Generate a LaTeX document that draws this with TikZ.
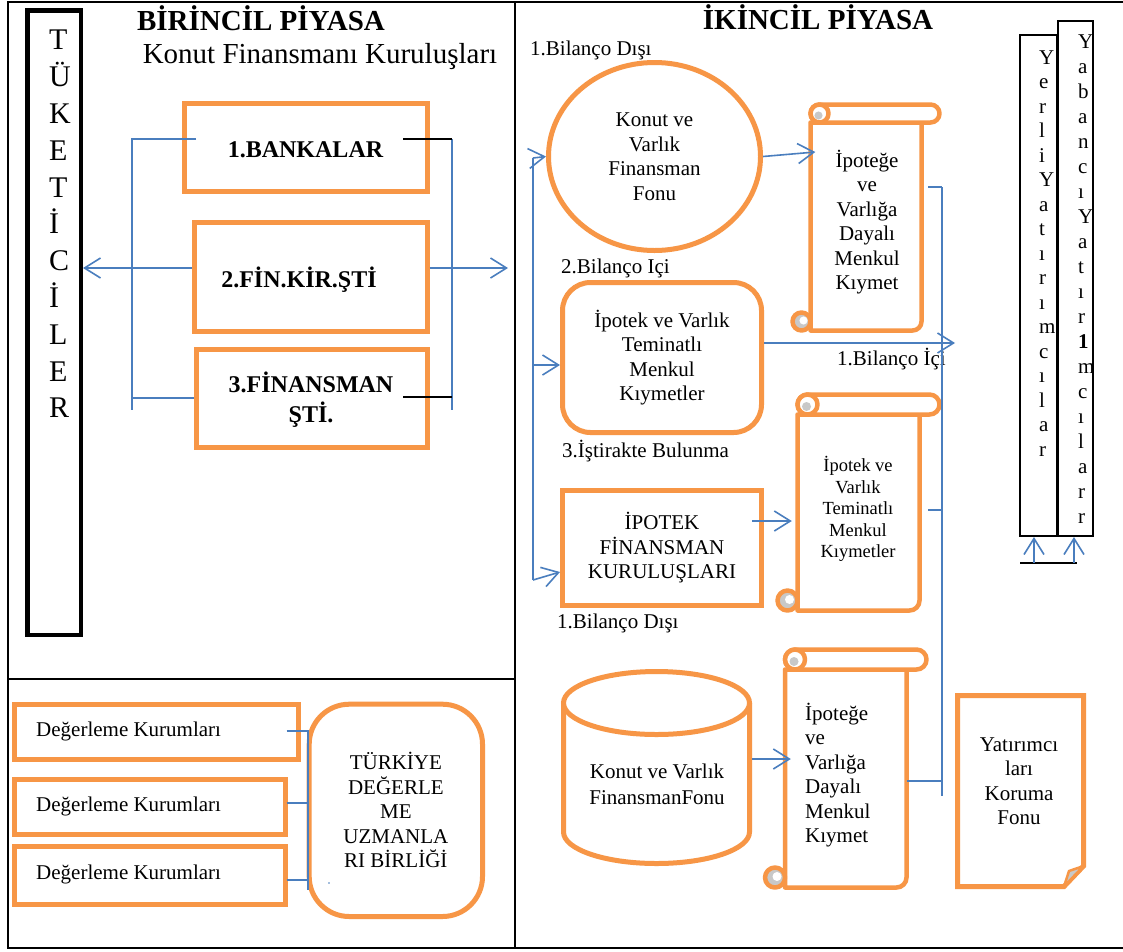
\documentclass[tikz,border=0pt]{standalone}
\usepackage{fontspec}
\setmainfont{Liberation Serif}
\usetikzlibrary{arrows.meta,shapes.geometric}
\definecolor{orng}{RGB}{247,150,70}
\definecolor{blu}{RGB}{74,126,190}
\definecolor{curlgray}{RGB}{200,200,200}
\newcommand{\fsz}[2]{\fontsize{#1}{#2}\selectfont}
% vertical scroll: body left, roll top, roll right, body bottom, roll height (y measured downwards)
\newcommand{\vscroll}[5]{%
  \pgfmathsetmacro\vsL{#1}%
  \pgfmathsetmacro\vsT{-(#2)}%
  \pgfmathsetmacro\vsR{#3}%
  \pgfmathsetmacro\vsB{-(#4)}%
  \pgfmathsetmacro\vsh{(#5)/2}%
  \pgfmathsetmacro\vsRc{#3-(#5)}%
  \pgfmathsetmacro\vsTc{-(#2)-(#5)}%
  \pgfmathsetmacro\vsdot{0.45*(#5)/2}%
  \draw[scroll, fill=white] (\vsL,\vsTc) -- (\vsL,\vsB) -- (\vsRc-\vsh,\vsB)
      arc[start angle=-90, end angle=0, radius=\vsh pt] -- (\vsRc,\vsTc) -- cycle;
  \draw[scroll, fill=white, rounded corners=\vsh pt] (\vsL,\vsT) rectangle (\vsR,\vsTc);
  \draw[scroll, fill=white] (\vsL+\vsh,\vsT-\vsh) circle[radius=\vsh pt];
  \fill[curlgray] (\vsL+\vsh-1,\vsT-\vsh-2) circle[radius=\vsdot pt];
  \draw[scroll, fill=curlgray] (\vsL-\vsh,\vsB+\vsh) circle[radius=\vsh pt];
  \fill[white] (\vsL-\vsh+2,\vsB+\vsh+1) circle[radius=\vsdot pt];
}
\begin{document}
\begin{tikzpicture}[x=1pt,y=1pt,
  frame/.style={draw=black,line width=2.6pt},
  orangebox/.style={draw=orng,line width=5pt,fill=white,inner sep=0pt,rectangle},
  scroll/.style={draw=orng,line width=4.5pt,line join=round},
  blueline/.style={draw=blu,line width=1.6pt},
  blackline/.style={draw=black,line width=1.8pt},
  barb/.style={-{Straight Barb[length=16pt,width=20pt]}},
  lbl/.style={inner sep=0pt,font=\fsz{21}{24.5}},
  boldlbl/.style={inner sep=0pt,font=\bfseries\fsz{24}{30}},
  title/.style={inner sep=0pt,font=\bfseries\fsz{29}{34}}
]
\useasboundingbox (0,0) rectangle (1123,-951);
\fill[white] (0,0) rectangle (1123,-951);

% table frame
\draw[frame] (1123,-2) -- (8,-2) -- (8,-948) -- (1123,-948);
\draw[frame] (515,-2) -- (515,-948);
\draw[frame] (8,-679) -- (515,-679);

% ---------------- primary market ----------------
\node[draw=black,line width=4.5pt,minimum width=53.5pt,minimum height=624.5pt,inner sep=0pt] (tuk) at (54,-322.5) {};
\node[inner sep=0pt,align=left,anchor=west,font=\fsz{30}{36.8}] (tukt) at (49,-224)
  {T\\Ü\\K\\E\\T\\İ\\C\\İ\\L\\E\\R};

\node[title,anchor=base] (birincil) at (261,-30) {BİRİNCİL PİYASA};
\node[inner sep=0pt,font=\fsz{29}{34},anchor=base] (konutfk) at (320,-63) {Konut Finansmanı Kuruluşları};

\node[orangebox,minimum width=243pt,minimum height=88pt] (b1) at (305.5,-147) {};
\node[boldlbl,anchor=base] (b1t) at (305.5,-157) {1.BANKALAR};
\node[orangebox,minimum width=233pt,minimum height=109pt] (b2) at (310.5,-276.5) {};
\node[boldlbl,anchor=base] (b2t) at (299,-287) {2.FİN.KİR.ŞTİ};
\node[orangebox,minimum width=231pt,minimum height=98pt] (b3) at (311.5,-398) {};
\node[boldlbl,align=center] (b3t) at (311,-399.5) {3.FİNANSMAN\\ŞTİ.};

% bracket connectors
\coordinate (lbt) at (132,-139);
\coordinate (lbb) at (132,-410);
\coordinate (lbtr) at (196,-139);
\coordinate (rbt) at (452,-139);
\coordinate (rbb) at (452,-410);
\coordinate (rbk1) at (403,-139);
\coordinate (rbk3) at (403,-397);
\coordinate (b2out) at (508,-268);
\draw[blueline] (lbtr) -- (lbt) -- (lbb);
\draw[blueline] (b3.west) -- (b3.west -| lbt);
\draw[blueline] (rbt) -- (rbb);
\draw[blackline] (rbk1) -- (rbt);
\draw[blackline] (rbk3) -- (rbk3 -| rbt);
\draw[blueline,barb] ([yshift=8.5pt]b2.west) -- ([yshift=8.5pt]b2.west -| tuk.east);
\draw[blueline,barb] ([yshift=8.5pt]b2.east) -- (b2out);

% ---------------- appraisal ----------------
\node[orangebox,minimum width=284pt,minimum height=55pt] (dk1) at (156.2,-731.7) {};
\node[orangebox,minimum width=271.3pt,minimum height=55pt] (dk2) at (149.85,-807) {};
\node[orangebox,minimum width=271pt,minimum height=58pt] (dk3) at (150,-875.5) {};
\node[lbl,anchor=base west] (dk1t) at (36,-736) {Değerleme Kurumları};
\node[lbl,anchor=base west] (dk2t) at (36,-811.7) {Değerleme Kurumları};
\node[lbl,anchor=base west] (dk3t) at (36,-879) {Değerleme Kurumları};
\node[draw=orng,line width=5pt,fill=white,rounded corners=40pt,minimum width=173.3pt,minimum height=212.3pt,
      lbl,align=center] (tdub) at (395.85,-810.35) {TÜRKİYE\\DEĞERLE\\ME\\UZMANLA\\RI BİRLİĞİ};
\coordinate (dvt) at (308,-730.7);
\coordinate (dvb) at (308,-890);
\draw[blueline] ([xshift=-14pt,yshift=1pt]dk1.east) -- (dvt) -- (dvb);
\draw[blueline] ([xshift=-1.3pt,yshift=4.3pt]dk2.east) -- ([yshift=4.3pt]dk2.east -| dvt);
\draw[blueline] ([xshift=-1.3pt,yshift=-4.5pt]dk3.east) -- ([yshift=-4.5pt]dk3.east -| dvt);
\fill[blu] (329,-883) circle[radius=0.9pt];

% ---------------- secondary market ----------------
\node[title,anchor=base] (ikincil) at (818,-29) {İKİNCİL PİYASA};
\node[lbl,anchor=base west] (bd1) at (530,-55) {1.Bilanço Dışı};
\node[ellipse,draw=orng,line width=5pt,fill=white,minimum width=212pt,minimum height=188pt,
      lbl,align=center] (kvf) at (654.5,-156.5) {Konut ve\\Varlık\\Finansman\\Fonu};
\node[lbl,anchor=base west] (bi2) at (561,-273) {2.Bilanço Içi};
\node[draw=orng,line width=5pt,fill=white,rounded corners=28pt,minimum width=199pt,minimum height=150pt,
      lbl,align=center] (ivtm) at (662,-357.5) {İpotek ve Varlık\\Teminatlı\\Menkul\\Kıymetler};
\node[lbl,anchor=base west] (bi3) at (562,-457) {3.İştirakte Bulunma};
\node[orangebox,minimum width=199pt,minimum height=115pt,lbl,align=center] (ipk) at (662,-548)
  {İPOTEK\\FİNANSMAN\\KURULUŞLARI};
\node[lbl,anchor=base west] (bd2) at (557,-628) {1.Bilanço Dışı};
\node[lbl,anchor=base west] (bic) at (837,-365) {1.Bilanço İçi};

% fund cylinder
\draw[draw=orng,line width=5pt,fill=white] (563.5,-703) -- (563.5,-832)
  arc[start angle=180,end angle=360,x radius=93pt,y radius=31.5pt] -- (749.5,-703);
\draw[draw=orng,line width=5pt,fill=white] (656.5,-703) ellipse[x radius=93pt,y radius=31.5pt];
\node[minimum width=191pt,minimum height=197pt,inner sep=0pt] (cyl) at (656.5,-767.5) {};
\node[lbl,align=center,font=\fsz{21}{26}] (cylt) at (657,-784) {Konut ve Varlık\\FinansmanFonu};

% scrolls
\vscroll{810.5}{104.5}{939.5}{330.5}{18}
\node[minimum width=111pt,minimum height=208pt,inner sep=0pt] (sc1) at (866,-226.5) {};
\node[lbl,align=center] (sc1t) at (867,-222) {İpoteğe\\ve\\Varlığa\\Dayalı\\Menkul\\Kıymet};
\vscroll{797.5}{394.5}{939.5}{610.5}{20}
\node[minimum width=122pt,minimum height=196pt,inner sep=0pt] (sc2) at (858.5,-512.5) {};
\node[lbl,align=center,font=\fsz{18.5}{21.5}] (sc2t) at (858,-509.2) {İpotek ve\\Varlık\\Teminatlı\\Menkul\\Kıymetler};
\vscroll{785}{649.5}{926.5}{887.5}{20}
\node[minimum width=121.5pt,minimum height=218pt,inner sep=0pt] (sc3) at (845.75,-778.5) {};
\node[lbl,align=left,anchor=west] (sc3t) at (805,-775) {İpoteğe\\ve\\Varlığa\\Dayalı\\Menkul\\Kıymet};

% investor protection fund (folded page)
\draw[draw=orng,line width=5pt,fill=white,line join=miter] (957.5,-695.5) -- (1083.5,-695.5) -- (1083.5,-866)
  -- (1064,-886.5) -- (957.5,-886.5) -- cycle;
\draw[draw=orng,line width=2.5pt,fill=curlgray,line join=round] (1083.5,-866) -- (1069,-871) -- (1064,-886.5) -- cycle;
\node[lbl,align=center] (ykf) at (1019,-781) {Yatırımcı\\ları\\Koruma\\Fonu};

% investors
\node[draw=black,line width=2pt,fill=white,minimum width=37pt,minimum height=501pt,inner sep=0pt] (yerli) at (1038.5,-285.5) {};
\node[draw=black,line width=2pt,fill=white,minimum width=35.3pt,minimum height=515pt,inner sep=0pt] (yab) at (1075.4,-278.5) {};
\node[lbl,align=left,anchor=west] (yerlit) at (1039,-253.6)
  {Y\\e\\r\\l\\i\\Y\\a\\t\\ı\\r\\ı\\m\\c\\ı\\l\\a\\r};
\node[lbl,align=left,anchor=west,font=\fsz{21}{25}] (yabt) at (1078,-279.5)
  {Y\\a\\b\\a\\n\\c\\ı\\Y\\a\\t\\ı\\r\\\textbf{1}\\m\\c\\ı\\l\\a\\r\\r};
\coordinate (ybl) at (1020,-563);
\coordinate (ybr) at (1077,-563);
\draw[blackline] (ybl) -- (ybr);
\draw[blueline,barb] ([xshift=-4.5pt]yerli.south |- ybl) -- ([xshift=-4.5pt]yerli.south);
\draw[blueline,barb] ([xshift=-1.4pt]yab.south |- ybl) -- ([xshift=-1.4pt]yab.south);

% secondary market connectors
\coordinate (lvt) at (533,-158);
\coordinate (lvm) at (533,-365);
\coordinate (lvb) at (533,-580);
\coordinate (rvt) at (942,-187);
\coordinate (rvb) at (942,-796);
\coordinate (bicend) at (955,-343);
\draw[blueline] (lvt) -- (lvb);
\draw[blueline,barb] (lvt) -- (kvf.west);
\draw[blueline,barb] (lvm) -- ([yshift=-7.5pt]ivtm.west);
\draw[blueline,barb] (lvb) -- ([yshift=-24pt]ipk.west);
\draw[blueline,barb] (kvf.east) -- ([xshift=5pt,yshift=74.5pt]sc1.west);
\draw[blueline,barb] ([yshift=14.5pt]ivtm.east) -- (bicend);
\draw[blueline,barb] ([xshift=-12pt,yshift=27pt]ipk.east) -- ([xshift=-5.5pt,yshift=-8.5pt]sc2.west);
\draw[blueline,barb] ([yshift=8.5pt]cyl.east) -- ([xshift=6pt,yshift=19.5pt]sc3.west);
\draw[blueline] (rvt) -- (rvb);
\draw[blueline] ([xshift=6.5pt,yshift=39.5pt]sc1.east) -- (rvt);
\draw[blueline] ([xshift=8.5pt,yshift=2.5pt]sc2.east) -- ([yshift=2.5pt]sc2.east -| rvt);
\draw[blueline] ([yshift=-2.5pt]sc3.east) -- ([yshift=-2.5pt]sc3.east -| rvt);
\end{tikzpicture}
\end{document}
